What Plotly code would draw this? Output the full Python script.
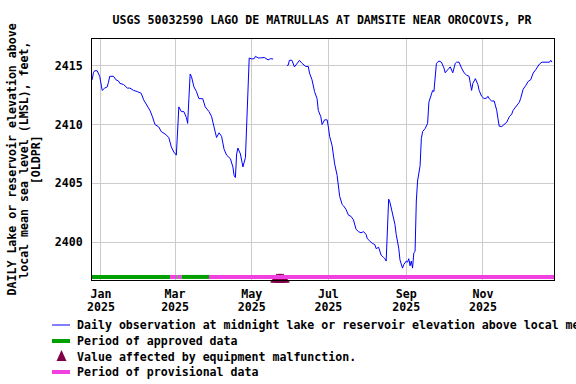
import pandas as pd
import plotly.graph_objects as go

# ---------------- data ----------------
base_date = "2025-01-01"
obs_days = [-7, -6, -5, -3, -1, 0, 1, 3, 5, 6, 7, 10, 12, 14, 15, 18, 21, 23, 26, 29,
            32, 34, 37, 39, 41, 43, 46, 48, 51, 54, 56, 58, 60, 61, 62, 64, 66, 68, 69, 70,
            71, 72, 74, 76, 78, 81, 83, 86, 88, 90, 92, 94, 96, 98, 100, 103, 105, 106, 107, 108,
            109, 111, 112, 113, 115, 116, 117, 118, 120, 122, 123, 125, 127, 130, 133, 135, 137,
            138,
            148, 149, 150, 152, 154, 156, 158, 160, 161, 163, 165, 166, 168, 170, 172, 173, 175,
            176, 178, 180, 181, 182, 184, 185, 186, 188, 189, 190, 192, 193, 195, 197, 199, 201,
            203, 205, 207, 209, 211, 212, 214, 216, 218, 219, 221, 223, 225, 226, 227, 228, 229,
            230, 232, 234, 235, 237, 238, 240, 241, 243, 244, 245, 246, 247, 248, 249, 250, 251,
            252, 254, 255, 256, 258, 260, 261, 263, 264, 265, 266, 267, 269, 271, 273, 274, 276,
            278, 280, 281, 282, 283, 285, 287, 289, 291, 293, 294, 295, 296, 298, 300, 301, 303,
            305, 307, 308, 309, 311, 313, 315, 316, 317, 319, 321, 323, 325, 327, 328, 330, 333,
            334, 336, 338, 340, 342, 344, 346, 348, 349, 351, 354, 357, 358, 359]
obs_values = [2413.8, 2414.4, 2414.57, 2414.57, 2414.1, 2413.5, 2412.9, 2413.1, 2413.2, 2413.6,
              2414.1, 2414.1, 2413.8, 2413.7, 2413.5, 2413.4, 2413.1, 2413.1, 2412.9, 2412.8,
              2412.66, 2412.1, 2411.5, 2411.2, 2410.66, 2410.0, 2409.8, 2409.4, 2409.2, 2408.9,
              2408.1, 2407.66, 2407.4, 2410.0, 2411.5, 2411.1, 2411.1, 2410.6, 2410.1, 2412.2,
              2414.3, 2414.1, 2413.2, 2412.8, 2412.2, 2412.2, 2411.5, 2411.1, 2410.7, 2409.8,
              2408.9, 2409.3, 2409.0, 2407.9, 2407.4, 2407.1, 2406.4, 2405.66, 2405.5, 2407.5,
              2408.0, 2407.5, 2406.9, 2406.4, 2407.2, 2409.8, 2413.9, 2415.66, 2415.57, 2415.6,
              2415.8, 2415.66, 2415.66, 2415.7, 2415.5, 2415.6, 2415.57,
              None,
              2415.03, 2415.03, 2415.46, 2415.46, 2414.9, 2415.2, 2415.46, 2415.2, 2415.1,
              2414.94, 2414.94, 2414.37, 2413.8, 2412.8, 2412.2, 2411.2, 2410.66, 2410.0, 2410.4,
              2410.4, 2409.8, 2409.0, 2408.2, 2407.4, 2406.66, 2405.66, 2404.8, 2403.9, 2403.2,
              2403.1, 2402.8, 2402.3, 2402.2, 2401.9, 2401.1, 2400.9, 2400.8, 2400.9, 2400.66,
              2400.3, 2400.1, 2399.9, 2399.8, 2399.46, 2399.57, 2398.9, 2398.7, 2398.6, 2398.4,
              2400.5, 2403.66, 2403.4, 2402.5, 2401.5, 2400.66, 2399.5, 2398.5, 2397.8, 2398.1,
              2398.4, 2398.3, 2398.6, 2398.0, 2398.4, 2397.8, 2399.1, 2399.2, 2403.5, 2405.2,
              2406.5, 2408.8, 2409.4, 2409.66, 2410.1, 2411.9, 2412.5, 2412.9, 2412.8, 2414.1,
              2415.2, 2415.4, 2415.3, 2414.8, 2414.4, 2414.66, 2414.9, 2414.4, 2414.8, 2415.2,
              2415.3, 2415.3, 2414.8, 2414.4, 2414.2, 2414.1, 2413.5, 2412.9, 2413.5, 2413.9,
              2413.4, 2412.9, 2412.4, 2412.2, 2412.25, 2412.4, 2412.2, 2412.0, 2412.0, 2411.2,
              2410.5, 2409.86, 2409.83, 2410.0, 2410.2, 2410.66, 2410.9, 2411.2, 2411.5, 2411.9,
              2412.2, 2413.0, 2413.3, 2413.66, 2413.8, 2414.37, 2414.66, 2414.94, 2415.14,
              2415.3, 2415.3, 2415.3, 2415.46, 2415.3]

approved_periods = [("2024-12-24", "2025-02-25"), ("2025-03-02", "2025-03-03"),
                    ("2025-03-06", "2025-03-28")]
provisional_periods = [("2025-02-25", "2025-03-02"), ("2025-03-03", "2025-03-06"),
                       ("2025-03-28", "2025-12-28")]
malfunction_dates = ["2025-05-21", "2025-05-22", "2025-05-23", "2025-05-24", "2025-05-25",
                     "2025-05-26"]

tick_dates = ["2025-01-01", "2025-03-01", "2025-05-01", "2025-07-01", "2025-09-01", "2025-11-01"]
tick_months = ["Jan", "Mar", "May", "Jul", "Sep", "Nov"]
tick_years = ["2025", "2025", "2025", "2025", "2025", "2025"]
y_ticks = [2400, 2405, 2410, 2415]

title_text = "USGS 50032590 LAGO DE MATRULLAS AT DAMSITE NEAR OROCOVIS, PR"
ytitle_lines = ["DAILY Lake or reservoir elevation above",
                "local mean sea level (LMSL), feet,",
                "[OLDPR]"]
legend_labels = ["Daily observation at midnight lake or reservoir elevation above local mean sea level (LMSL), feet, [OLDPR]",
                 "Period of approved data",
                 "Value affected by equipment malfunction.",
                 "Period of provisional data"]

# ---------------- style ----------------
BLUE = "#0000FF"
GREEN = "#00A000"
PINK = "#F040E0"
MAROON = "#800048"
FONT = "DejaVu Sans Mono"
FS = 11.6

W, H = 576, 384
L, R, T, B = 92, 22, 39, 104
PW, PH = W - L - R, H - T - B
X_RANGE = ["2024-12-24T21:00", "2025-12-27T14:00"]

def px(x):
    return (x - L) / PW

def py(y):
    return (H - B - y) / PH

tf = dict(family=FONT, size=FS, color="black", weight="bold")

x_dates = [pd.Timestamp(base_date) + pd.Timedelta(days=d) for d in obs_days]
BAR_Y = 2397.05

fig = go.Figure()

# malfunction markers (under the status bar)
fig.add_trace(go.Scatter(x=malfunction_dates, y=[2396.83] * len(malfunction_dates),
                         mode="markers", cliponaxis=False,
                         marker=dict(symbol="triangle-up", size=12, color=MAROON,
                                     line=dict(width=0)),
                         showlegend=False, hoverinfo="skip"))

for s, e in approved_periods:
    fig.add_trace(go.Scatter(x=[s, e], y=[BAR_Y, BAR_Y], mode="lines",
                             line=dict(color=GREEN, width=4), showlegend=False))
for s, e in provisional_periods:
    fig.add_trace(go.Scatter(x=[s, e], y=[BAR_Y, BAR_Y], mode="lines",
                             line=dict(color=PINK, width=4), showlegend=False))

fig.add_trace(go.Scatter(x=x_dates, y=obs_values, mode="lines", connectgaps=False,
                         line=dict(color=BLUE, width=1), showlegend=False))

# invisible trace carrying the year-row axis
fig.add_trace(go.Scatter(x=tick_dates, y=[None] * len(tick_dates), xaxis="x2",
                         mode="markers", showlegend=False, hoverinfo="skip"))

fig.update_layout(
    width=W, height=H,
    margin=dict(l=L, r=R, t=T, b=B),
    paper_bgcolor="white", plot_bgcolor="white",
    font=tf,
    title=dict(text=title_text, x=(322 / W), xanchor="center",
               y=1 - 20 / H, yanchor="middle", font=tf),
    showlegend=False,
    xaxis2=dict(type="date", range=X_RANGE, overlaying="x", side="bottom",
                tickvals=tick_dates, ticktext=tick_years, showgrid=False,
                showline=False, ticks="", zeroline=False, ticklabelstandoff=18,
                tickfont=tf),
)

fig.layout.xaxis.update(type="date", range=X_RANGE,
                        tickvals=tick_dates, ticktext=tick_months,
                        showgrid=True, gridcolor="#CCCCCC", gridwidth=1,
                        showline=True, linecolor="black", linewidth=1, mirror=True,
                        ticks="", zeroline=False, ticklabelstandoff=3, tickfont=tf)
fig.update_yaxes(range=[2396.79, 2417.27], tickvals=y_ticks,
                 showgrid=True, gridcolor="#CCCCCC", gridwidth=1,
                 showline=True, linecolor="black", linewidth=1, mirror=True,
                 ticks="", zeroline=False, ticklabelstandoff=6, tickfont=tf)

# y-axis title, three rotated lines
for line, xc in zip(ytitle_lines, [11.5, 23.8, 36.2]):
    fig.add_annotation(text=line, xref="paper", yref="paper", x=px(xc), y=py(160),
                       xanchor="center", yanchor="middle", textangle=-90, showarrow=False,
                       font=tf)

# legend (drawn manually)
rows = [325, 341, 356.5, 372]
fig.add_shape(type="line", xref="paper", yref="paper", x0=px(52), x1=px(70),
              y0=py(rows[0]), y1=py(rows[0]), line=dict(color=BLUE, width=1))
fig.add_shape(type="line", xref="paper", yref="paper", x0=px(52), x1=px(70),
              y0=py(rows[1]), y1=py(rows[1]), line=dict(color=GREEN, width=4))
fig.add_shape(type="path", xref="paper", yref="paper",
              path=f"M {px(56.5)},{py(361)} L {px(66.5)},{py(361)} L {px(61.5)},{py(350)} Z",
              fillcolor=MAROON, line=dict(color=MAROON, width=0))
fig.add_shape(type="line", xref="paper", yref="paper", x0=px(52), x1=px(70),
              y0=py(rows[3]), y1=py(rows[3]), line=dict(color=PINK, width=4))
for lab, r in zip(legend_labels, rows):
    fig.add_annotation(text=lab, xref="paper", yref="paper", x=px(75), y=py(r),
                       xanchor="left", yanchor="middle", showarrow=False, font=tf)

fig.write_html("out.html", config={"displayModeBar": False},
               post_script="document.body.style.margin='0';document.body.style.padding='0';")
